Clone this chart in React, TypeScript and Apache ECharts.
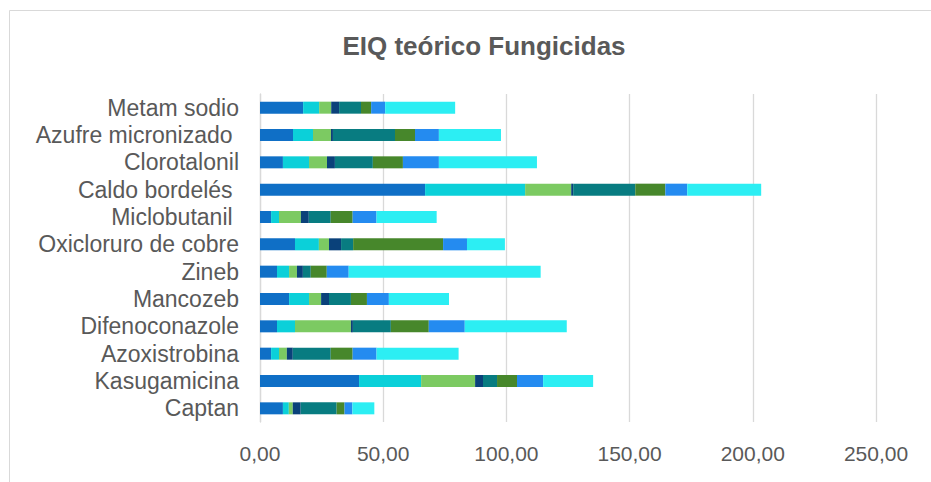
import React, { useEffect, useRef } from "react";
import * as echarts from "echarts";

const categories = [
  "Captan",
  "Kasugamicina",
  "Azoxistrobina",
  "Difenoconazole",
  "Mancozeb",
  "Zineb",
  "Oxicloruro de cobre",
  "Miclobutanil ",
  "Caldo bordelés ",
  "Clorotalonil",
  "Azufre micronizado ",
  "Metam sodio",
];

const serie1 = [9.3, 40.2, 4.5, 6.9, 11.8, 6.9, 14.2, 4.5, 67.0, 9.3, 13.4, 17.5];
const serie2 = [2.4, 25.2, 3.2, 7.3, 8.1, 4.9, 9.7, 3.2, 40.6, 10.6, 8.1, 6.5];
const serie3 = [1.6, 21.9, 3.2, 22.7, 4.9, 3.2, 4.1, 8.9, 18.7, 7.3, 7.3, 4.9];
const serie4 = [3.2, 3.2, 2.4, 0.8, 3.2, 2.4, 4.9, 3.2, 0.8, 3.2, 0.8, 3.2];
const serie5 = [14.6, 5.7, 15.4, 15.4, 8.9, 3.2, 4.9, 8.9, 25.2, 15.4, 25.2, 8.9];
const serie6 = [3.2, 8.1, 8.9, 15.4, 6.5, 6.5, 36.5, 8.9, 12.2, 12.2, 8.1, 4.1];
const serie7 = [3.2, 10.6, 9.7, 14.6, 8.9, 8.9, 9.7, 9.7, 8.9, 14.6, 9.7, 5.7];
const serie8 = [8.9, 20.3, 33.3, 41.4, 24.4, 77.9, 15.4, 24.4, 30.0, 39.8, 25.2, 28.4];

const seriesNames = ["Serie 1", "Serie 2", "Serie 3", "Serie 4", "Serie 5", "Serie 6", "Serie 7", "Serie 8"];
const seriesValues = [serie1, serie2, serie3, serie4, serie5, serie6, serie7, serie8];
const colors = ["#0F6FC6", "#0BD0D9", "#7CCA62", "#0A417A", "#087C81", "#47872B", "#248BF0", "#2CEEF3"];

const xTicks = [0, 50, 100, 150, 200, 250];

export default function App() {
  const ref = useRef<HTMLDivElement>(null);

  useEffect(() => {
    if (!ref.current) return;
    const chart = echarts.init(ref.current, undefined, { renderer: "svg" });
    chart.setOption({
      animation: false,
      color: colors,
      title: {
        text: "EIQ teórico Fungicidas",
        left: 479,
        top: 28,
        textAlign: "center",
        textStyle: {
          fontFamily: "Liberation Sans, Arial, sans-serif",
          fontSize: 26,
          fontWeight: "bold",
          color: "#595959",
        },
      },
      graphic: [
        {
          type: "rect",
          shape: { x: 9.5, y: 10.5, width: 1000, height: 1000 },
          style: { fill: "none", stroke: "#d9d9d9", lineWidth: 1 },
          silent: true,
        },
      ],
      grid: { left: 260, right: 55, top: 94, bottom: 60, containLabel: false },
      xAxis: {
        type: "value",
        min: xTicks[0],
        max: xTicks[xTicks.length - 1],
        interval: 50,
        axisLine: { show: false },
        axisTick: { show: false },
        splitLine: { show: true, lineStyle: { color: "#d9d9d9", width: 1.3 } },
        axisLabel: {
          margin: 21,
          fontFamily: "Liberation Sans, Arial, sans-serif",
          fontSize: 21,
          color: "#595959",
          formatter: (v: number) => v.toFixed(2).replace(".", ","),
        },
      },
      yAxis: {
        type: "category",
        data: categories,
        axisLine: { show: true, lineStyle: { color: "#d9d9d9", width: 1.3 } },
        axisTick: { show: false },
        axisLabel: {
          interval: 0,
          hideOverlap: false,
          margin: 21,
          fontFamily: "Liberation Sans, Arial, sans-serif",
          fontSize: 23,
          color: "#595959",
        },
      },
      series: seriesNames.map((name, i) => ({
        name,
        type: "bar",
        stack: "total",
        barWidth: 12,
        data: seriesValues[i],
        itemStyle: { color: colors[i] },
      })),
    });
    return () => chart.dispose();
  }, []);

  return (
    <div
      ref={ref}
      style={{ position: "fixed", left: 0, top: 0, width: 931, height: 482, background: "#ffffff" }}
    />
  );
}
